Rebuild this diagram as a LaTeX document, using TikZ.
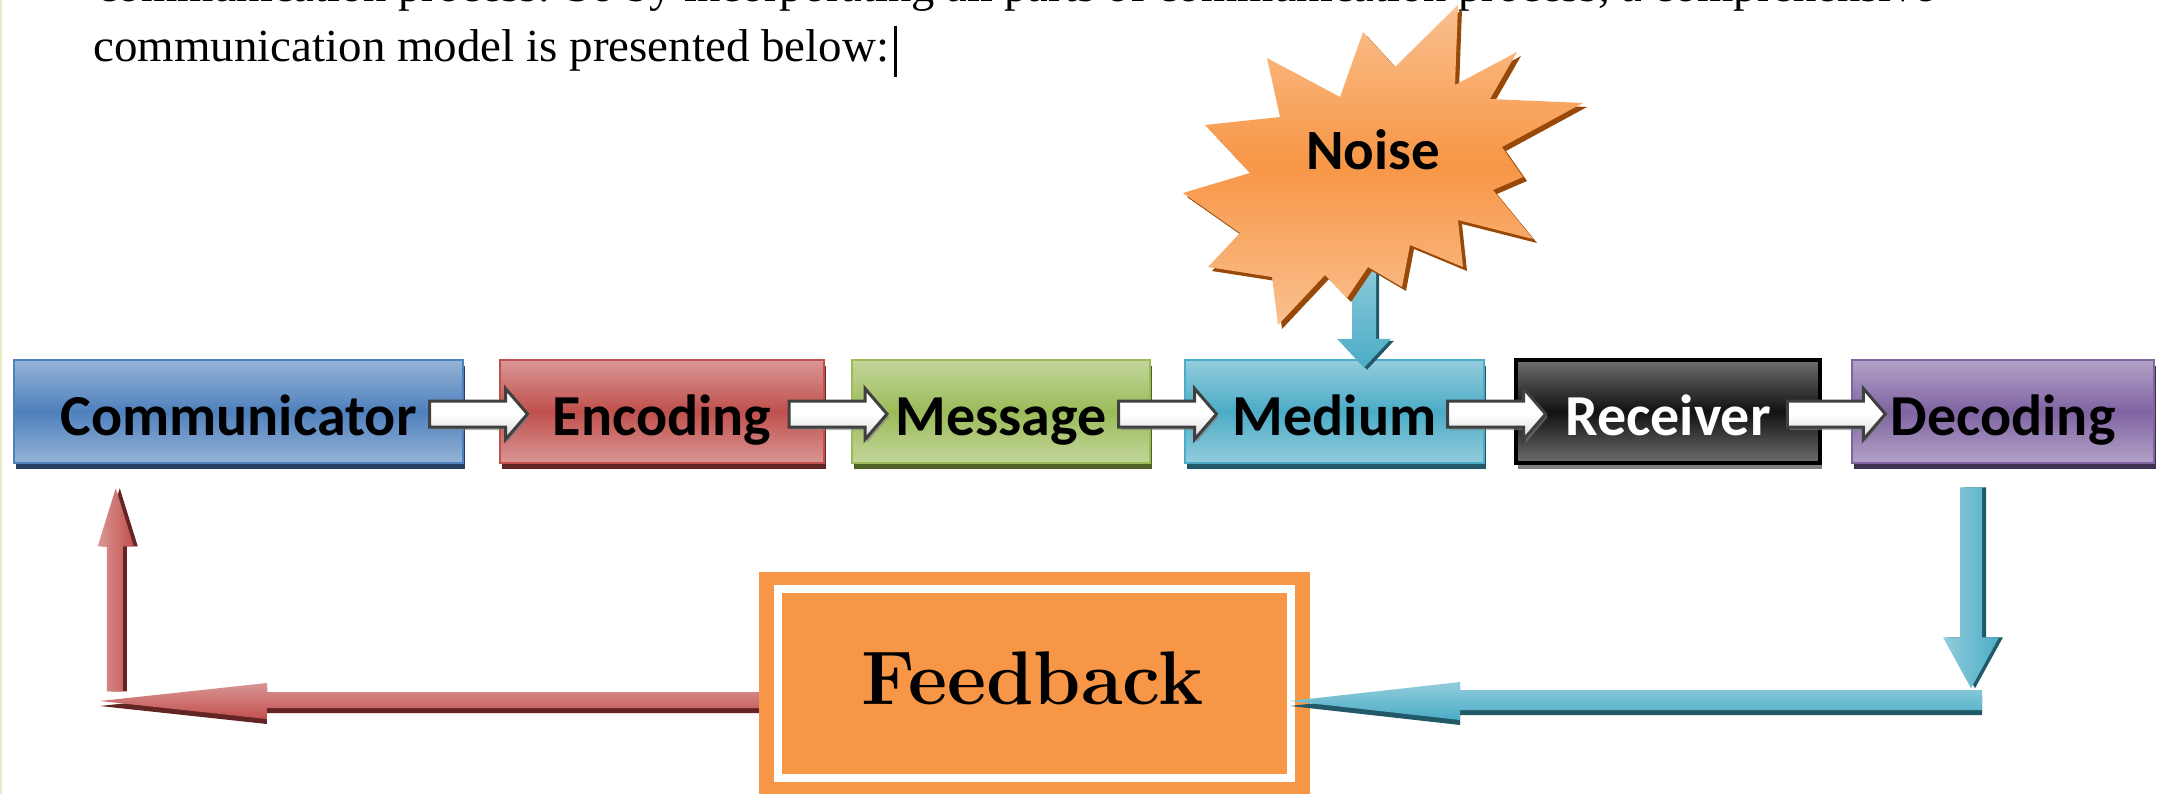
\documentclass[tikz,border=0pt]{standalone}
\usepackage{fontspec}
\usepackage{graphicx}
\usetikzlibrary{calc,shadows}
\newfontfamily\carl{Carlito}
\newfontfamily\tnr{Liberation Serif}
\definecolor{comlight}{HTML}{95B3D7}
\definecolor{commain}{HTML}{4F81BD}
\definecolor{comshadow}{HTML}{254061}
\definecolor{enclight}{HTML}{DA9694}
\definecolor{encmain}{HTML}{C0504D}
\definecolor{encshadow}{HTML}{632523}
\definecolor{msglight}{HTML}{C3D69B}
\definecolor{msgmain}{HTML}{9BBB59}
\definecolor{msgshadow}{HTML}{4F6228}
\definecolor{medlight}{HTML}{93CDDD}
\definecolor{medmain}{HTML}{4BACC6}
\definecolor{medshadow}{HTML}{215968}
\definecolor{reclight}{HTML}{6E6E6E}
\definecolor{recmain}{HTML}{111111}
\definecolor{recshadow}{HTML}{808080}
\definecolor{declight}{HTML}{B2A2C7}
\definecolor{decmain}{HTML}{8064A2}
\definecolor{decshadow}{HTML}{3F3151}
\definecolor{starlight}{HTML}{FAC08F}
\definecolor{starmain}{HTML}{F79646}
\definecolor{starshadow}{HTML}{984807}
\definecolor{fborange}{HTML}{F79646}
\definecolor{edgeline}{HTML}{E4EAC4}
\tikzset{
  stage/.style={draw, inner sep=0pt, minimum height=103pt, line width=2.5pt,
    text height=47pt, text depth=0pt,
    font={\carl\bfseries\fontsize{58pt}{60pt}\selectfont}},
  stagecol/.style n args={3}{draw=#2, top color=#1, bottom color=#1, middle color=#2,
    drop shadow={shadow xshift=1.5pt, shadow yshift=-6pt, opacity=1, fill=#3}},
  chainarr/.pic={
    \path[draw=black!75, line width=3pt, line join=miter,
      drop shadow={shadow xshift=2pt, shadow yshift=-3pt, opacity=.6, fill=black!50},
      top color=white, bottom color=black!15, middle color=white]
      (-49,-13) -- (27,-13) -- (27,-25.5) -- (49,0) -- (27,25.5) -- (27,13) -- (-49,13) -- cycle;
  },
  noisestar/.pic={
    \path[top color=starlight, bottom color=starlight, middle color=starmain,
      drop shadow={shadow xshift=4pt, shadow yshift=-4pt, opacity=1, fill=starshadow}]
      (1458,5) -- (1455,85) -- (1517,52) -- (1490,99) -- (1583,103) -- (1502,147)
      -- (1523,177) -- (1493,190) -- (1533,239) -- (1458,220) -- (1463,267)
      -- (1410,245) -- (1402,287) -- (1368,267) -- (1347,298) -- (1325,275)
      -- (1278,325) -- (1272,277) -- (1208,267) -- (1240,233) -- (1183,193)
      -- (1250,173) -- (1205,125) -- (1280,117) -- (1267,58) -- (1340,97)
      -- (1363,32) -- (1395,67) -- cycle;
  },
  redh/.style={top color=enclight, bottom color=encmain,
    drop shadow={shadow xshift=0pt, shadow yshift=-5pt, opacity=1, fill=encshadow}},
  redv/.style={left color=enclight, right color=encmain,
    drop shadow={shadow xshift=4pt, shadow yshift=0pt, opacity=1, fill=encshadow}},
  blueh/.style={top color=medlight, bottom color=medmain,
    drop shadow={shadow xshift=0pt, shadow yshift=-5pt, opacity=1, fill=medshadow}},
  bluev/.style={left color=medlight, right color=medmain,
    drop shadow={shadow xshift=4pt, shadow yshift=0pt, opacity=1, fill=medshadow}},
  fbbox/.style={fill=fborange, inner sep=0pt, minimum width=551pt, minimum height=224pt},
}
\begin{document}
\begin{tikzpicture}[x=1pt,y=-1pt]
\useasboundingbox (0,0) rectangle (2165,794);
\clip (0,0) rectangle (2165,794);
\fill[white] (0,0) rectangle (2165,794);
\draw[edgeline, line width=2pt] (1,0) -- (1,794);

% text above
\node[anchor=base west, inner sep=0pt, font={\tnr\fontsize{46pt}{50pt}\selectfont}] (line1) at (97,2)
  {\resizebox{1838pt}{\height}{communication process. So by incorporating all parts of communication process, a comprehensive}};
\node[anchor=base west, inner sep=0pt, font={\tnr\fontsize{46pt}{50pt}\selectfont}] (line2) at (93,62)
  {\resizebox{796pt}{\height}{communication model is presented below:}};
\draw[line width=3pt] (895,26) -- (895,77);

% stages
\node[stage, stagecol={comlight}{commain}{comshadow}, minimum width=449pt] (com) at (238.5,411.5) {Communicator};
\node[stage, stagecol={enclight}{encmain}{encshadow}, minimum width=324pt] (enc) at (662,411.5) {Encoding};
\node[stage, stagecol={msglight}{msgmain}{msgshadow}, minimum width=298pt] (msg) at (1001,411.5) {Message};
\node[stage, stagecol={medlight}{medmain}{medshadow}, minimum width=299pt] (med) at (1334.5,411.5) {Medium};
\node[stage, stagecol={reclight}{recmain}{recshadow}, draw=black, line width=4pt, text=white, minimum width=304pt] (rec) at (1668,411.5) {Receiver};
\node[stage, stagecol={declight}{decmain}{decshadow}, minimum width=302pt] (dec) at (2003,411.5) {Decoding};

% chain arrows
\pic at ($(com.east)!0.5!(enc.west)+(-3,2.5)$) {chainarr};
\pic at ($(enc.east)!0.5!(msg.west)+(0,2.5)$) {chainarr};
\pic at ($(msg.east)!0.5!(med.west)+(0,2.5)$) {chainarr};
\pic at ($(med.east)!0.5!(rec.west)+(-3,2.5)$) {chainarr};
\pic at ($(rec.east)!0.5!(dec.west)+(0,2.5)$) {chainarr};

% noise arrow and star
\coordinate (nzto) at ($(med.north)+(29.5,9)$);
\path[top color=medlight, bottom color=medmain,
  drop shadow={shadow xshift=3pt, shadow yshift=-2pt, opacity=1, fill=medshadow}]
  (nzto) -- ++(27,-29) -- ++(-15,0) -- ++(0,-85) -- ++(-24,0) -- ++(0,85) -- ++(-15,0) -- cycle;
\pic at (0,0) {noisestar};
\node[inner sep=0pt, font={\carl\bfseries\fontsize{57pt}{60pt}\selectfont}] (noise) at (1373,150) {Noise};

% feedback
\node[fbbox] (fb) at (1034.5,684) {};
\draw[white, line width=8pt] ($(fb.north west)+(19,17)$) rectangle ($(fb.south east)+(-19,-18)$);
\node[anchor=base, inner sep=0pt, font={\bfseries\fontsize{76pt}{80pt}\selectfont}] (fbtext) at (1032.5,704) {Feedback};

% feedback loop arrows
\coordinate (bluedn) at ($(dec.south)+(-32,224)$);
\coordinate (bluelt) at ($(fb.east)+(-20,17)$);
\coordinate (redtip) at (100,701);
\coordinate (redup) at ($(com.south west)+(103,24)$);
\path[blueh] (bluelt) -- ++(170,-19) -- ++(0,8) -- ++(522,0) -- ++(0,20) -- ++(-522,0) -- ++(0,10) -- cycle;
\path[bluev] (bluedn) -- ++(28,-51) -- ++(-17,0) -- ++(0,-150) -- ++(-22,0) -- ++(0,150) -- ++(-17,0) -- cycle;
\path[redh] (redtip) -- ++(167,-18) -- ++(0,9) -- (fb.west |- 0,692) -- ++(0,16) -- ++(-492,0) -- ++(0,11) -- cycle;
\path[redv] (redup) -- ++(18,58) -- ++(-11,0) -- ++(0,145) -- ++(-16,0) -- ++(0,-145) -- ++(-9,0) -- cycle;
\end{tikzpicture}
\end{document}
